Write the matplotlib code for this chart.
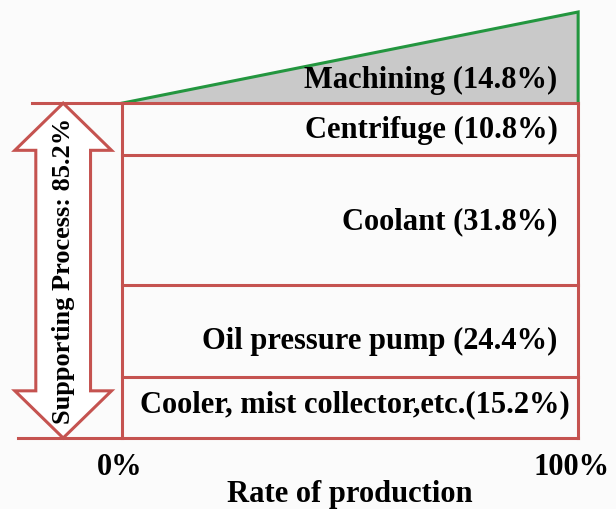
import numpy as np
import matplotlib
matplotlib.use('Agg')
import matplotlib.pyplot as plt
from matplotlib.patches import Polygon

# labels of the layers, bottom to top
labels = ['Cooler, mist collector,etc.(15.2%)', 'Oil pressure pump (24.4%)',
          'Coolant (31.8%)', 'Centrifuge (10.8%)']
# drawn heights of the layers
heights = [15.5, 23.4, 33.1, 13.2]
machining_label = 'Machining (14.8%)'
machining_top = 23.2
support_label = 'Supporting Process: 85.2%'
xticks = [0, 100]
xticklabels = ['0%', '100%']
xlabel = 'Rate of production'

red = '#c55350'
green = '#23963f'
plt.rcParams['font.family'] = ['Liberation Serif', 'DejaVu Serif']

fig = plt.figure(figsize=(6.16, 5.09), dpi=100)
fig.patch.set_facecolor('#fbfbfb')
ax = fig.add_axes([0, 0, 1, 1])
ax.set_xlim(-26.75, 108.3)
ax.set_ylim(-18.07, 111.45)
ax.axis('off')

bounds = np.concatenate([[0], np.cumsum(heights)])
top = bounds[-1]

# machining triangle
tri = Polygon([[0, top], [100, top], [100, top + machining_top]], closed=True,
              facecolor='#c9c9c9', edgecolor='none')
ax.add_patch(tri)
ax.plot([0, 100, 100], [top, top + machining_top, top], color=green, lw=2.2,
        solid_joinstyle='miter')

# layer boxes
for b in bounds[1:-1]:
    ax.plot([0, 100], [b, b], color=red, lw=2.2)
ax.plot([-19.7, 100], [top, top], color=red, lw=2.2)
ax.plot([-22.8, 100], [0, 0], color=red, lw=2.2)
ax.plot([0, 0], [0, top], color=red, lw=2.2)
ax.plot([100, 100], [0, top], color=red, lw=2.2)

# labels
ypos = [8.4, 24.6, 55.0, 78.2]
xpos = [98.2, 95.5, 95.5, 95.5]
for lab, x, y in zip(labels, xpos, ypos):
    ax.text(x, y, lab, ha='right', va='center', fontsize=22, fontweight='bold')
ax.text(95.5, 91.0, machining_label, ha='right', va='center', fontsize=22,
        fontweight='bold')

# double arrow
cx = -12.9
hw = 10.6
sw = 6.0
hl = 12.0
arrow = Polygon([[cx, 0], [cx - hw, hl], [cx - sw, hl], [cx - sw, top - hl],
                 [cx - hw, top - hl], [cx, top], [cx + hw, top - hl],
                 [cx + sw, top - hl], [cx + sw, hl], [cx + hw, hl]],
                closed=True, facecolor='white', edgecolor=red, lw=2.2,
                joinstyle='miter')
ax.add_patch(arrow)
ax.text(cx, top / 2, support_label, rotation=90, ha='center', va='center',
        fontsize=19, fontweight='bold')

# x labels
ax.text(xticks[0] - 0.5, -7.6, xticklabels[0], ha='center', va='center',
        fontsize=22, fontweight='bold')
ax.text(xticks[1] - 1.5, -7.6, xticklabels[1], ha='center', va='center',
        fontsize=22, fontweight='bold')
ax.text(50, -14.4, xlabel, ha='center', va='center', fontsize=22,
        fontweight='bold')

fig.savefig('out.png', dpi=100, facecolor=fig.get_facecolor())
